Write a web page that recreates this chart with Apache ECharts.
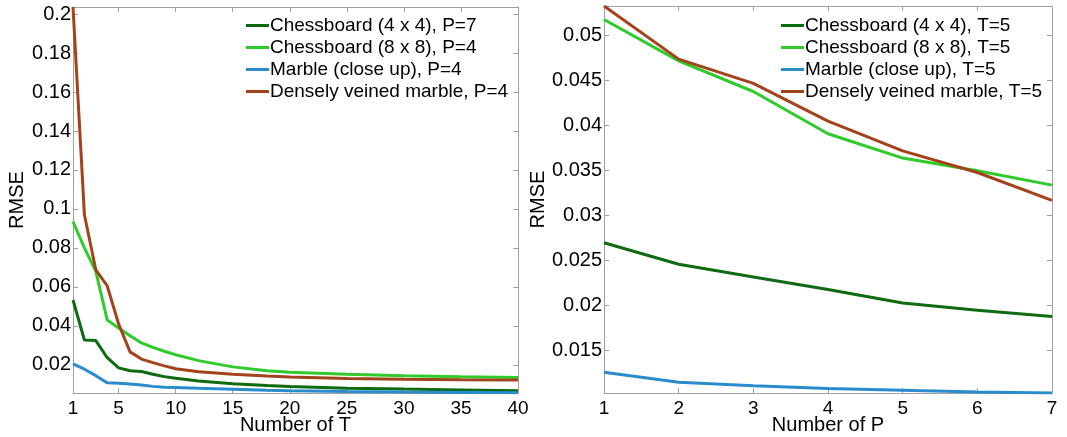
<!DOCTYPE html>
<html>
<head>
<meta charset="utf-8">
<script src="https://cdn.jsdelivr.net/npm/echarts@6/dist/echarts.min.js"></script>
<style>
html,body{margin:0;padding:0;background:#fff;}
#main{width:1067px;height:437px;}
</style>
</head>
<body>
<div id="main"></div>
<script>
// left panel: RMSE vs number of T
var tValues = [1,2,3,4,5,6,7,8,9,10,12,15,18,20,25,30,35,40];
var leftChess4 = [0.0533,0.0328,0.0325,0.0237,0.0185,0.0170,0.0166,0.0152,0.0140,0.0132,0.0118,0.0104,0.0094,0.0089,0.0081,0.0076,0.0072,0.0068];
var leftChess8 = [0.0935,0.0800,0.0680,0.0430,0.0390,0.0350,0.0313,0.0290,0.0270,0.0252,0.0222,0.0190,0.0170,0.0163,0.0152,0.0144,0.0139,0.0135];
var leftMarble = [0.0205,0.0178,0.0145,0.0108,0.0106,0.0102,0.0097,0.0090,0.0086,0.0084,0.0080,0.0075,0.0070,0.0068,0.0064,0.0061,0.0059,0.0057];
var leftDense  = [0.2036,0.0970,0.0687,0.0605,0.0410,0.0267,0.0230,0.0212,0.0195,0.0180,0.0165,0.0152,0.0143,0.0138,0.0131,0.0127,0.0124,0.0123];
var leftNames = ["Chessboard (4 x 4), P=7","Chessboard (8 x 8), P=4","Marble (close up), P=4","Densely veined marble, P=4"];
var leftXTicks = [1,5,10,15,20,25,30,35,40];
var leftYTicks = [0.02,0.04,0.06,0.08,0.1,0.12,0.14,0.16,0.18,0.2];

// right panel: RMSE vs number of P
var pValues = [1,2,3,4,5,6,7];
var rightChess4 = [0.0270,0.0246,0.0232,0.0218,0.0203,0.0195,0.0188];
var rightChess8 = [0.0518,0.0472,0.0438,0.0391,0.0364,0.0350,0.0334];
var rightMarble = [0.0126,0.0115,0.0111,0.0108,0.0106,0.0104,0.0103];
var rightDense  = [0.0533,0.0474,0.0447,0.0405,0.0372,0.0348,0.0317];
var rightNames = ["Chessboard (4 x 4), T=5","Chessboard (8 x 8), T=5","Marble (close up), T=5","Densely veined marble, T=5"];
var rightXTicks = [1,2,3,4,5,6,7];
var rightYTicks = [0.015,0.02,0.025,0.03,0.035,0.04,0.045,0.05];

var colors = ["#0e6b12","#2ecb2a","#2a8bcd","#a3431c"];
var font = "Liberation Sans, Arial, sans-serif";
var axisGray = "#a0a0a0";

function pairs(xs, ys){
	var out = [];
	for (var i = 0; i < xs.length; i++) out.push([xs[i], ys[i]]);
	return out;
}
function fmt(v){ return String(parseFloat(v.toFixed(4))); }

function xAx(grid, min, max, ticks, pos, name){
	return {
		type: "value", gridIndex: grid, position: pos, min: min, max: max,
		name: pos === "bottom" ? name : "", nameLocation: "middle", nameGap: 22, nameMoveOverlap: false,
		nameTextStyle: {color: "#000", fontSize: 20, fontFamily: font},
		axisLine: {show: true, onZero: false, lineStyle: {color: axisGray, width: 1}},
		axisTick: {show: true, inside: true, length: 5, customValues: ticks, lineStyle: {color: axisGray}},
		axisLabel: {show: pos === "bottom", customValues: ticks, color: "#000", fontSize: 19, fontFamily: font, margin: 6},
		splitLine: {show: false}
	};
}
function yAx(grid, min, max, ticks, pos, gap){
	return {
		type: "value", gridIndex: grid, position: pos, min: min, max: max,
		name: pos === "left" ? "RMSE" : "", nameLocation: "middle", nameGap: gap, nameMoveOverlap: false,
		nameTextStyle: {color: "#000", fontSize: 20, fontFamily: font},
		axisLine: {show: true, onZero: false, lineStyle: {color: axisGray, width: 1}},
		axisTick: {show: true, inside: true, length: 5, customValues: ticks, lineStyle: {color: axisGray}},
		axisLabel: {show: pos === "left", customValues: ticks, color: "#000", fontSize: 20, fontFamily: font, margin: 2, formatter: fmt},
		splitLine: {show: false}
	};
}
function line(name, xi, yi, xs, ys, color){
	return {
		name: name, type: "line", xAxisIndex: xi, yAxisIndex: yi,
		data: pairs(xs, ys), symbol: "none", showSymbol: false,
		lineStyle: {color: color, width: 3}, itemStyle: {color: color}
	};
}
function legend(names, left){
	return {
		data: names, orient: "vertical", left: left, top: 11,
		icon: "rect", itemWidth: 23, itemHeight: 3, itemGap: 3,
		textStyle: {color: "#000", fontSize: 19, fontFamily: font, padding: [0, 0, 0, -4]}
	};
}

var chart = echarts.init(document.getElementById("main"));
chart.setOption({
	animation: false,
	backgroundColor: "#fff",
	grid: [
		{left: 73, right: 549, top: 7, bottom: 44, outerBoundsMode: "none", containLabel: false},
		{left: 604, right: 15, top: 6, bottom: 44, outerBoundsMode: "none", containLabel: false}
	],
	legend: [legend(leftNames, 241), legend(rightNames, 776)],
	xAxis: [
		xAx(0, 1, 40, leftXTicks, "bottom", "Number of T"),
		xAx(0, 1, 40, leftXTicks, "top", ""),
		xAx(1, 1, 7, rightXTicks, "bottom", "Number of P"),
		xAx(1, 1, 7, rightXTicks, "top", "")
	],
	yAxis: [
		yAx(0, 0.0056, 0.2036, leftYTicks, "left", 46),
		yAx(0, 0.0056, 0.2036, leftYTicks, "right", 0),
		yAx(1, 0.0103, 0.0533, rightYTicks, "left", 56),
		yAx(1, 0.0103, 0.0533, rightYTicks, "right", 0)
	],
	series: [
		line(leftNames[0], 0, 0, tValues, leftChess4, colors[0]),
		line(leftNames[1], 0, 0, tValues, leftChess8, colors[1]),
		line(leftNames[2], 0, 0, tValues, leftMarble, colors[2]),
		line(leftNames[3], 0, 0, tValues, leftDense, colors[3]),
		line(rightNames[0], 2, 2, pValues, rightChess4, colors[0]),
		line(rightNames[1], 2, 2, pValues, rightChess8, colors[1]),
		line(rightNames[2], 2, 2, pValues, rightMarble, colors[2]),
		line(rightNames[3], 2, 2, pValues, rightDense, colors[3])
	]
});
</script>
</body>
</html>
